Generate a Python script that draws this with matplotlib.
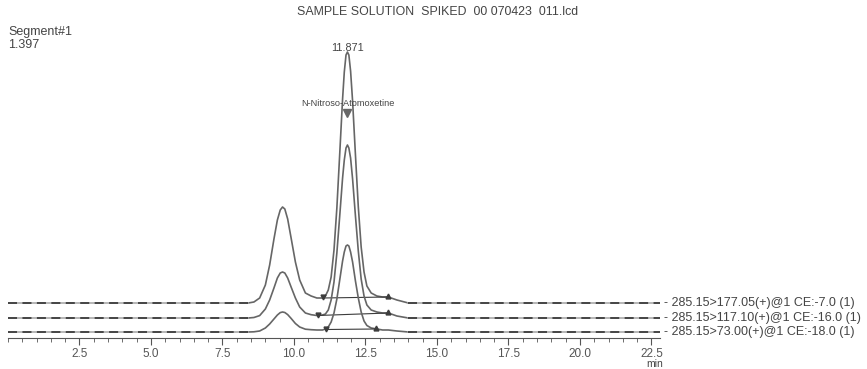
import matplotlib
matplotlib.use('Agg')
import matplotlib.pyplot as plt
from matplotlib.ticker import MultipleLocator

plt.rcParams['font.family'] = ['Liberation Sans', 'DejaVu Sans']

# retention time (min)
rt = [0.0, 8.4, 8.6, 8.8, 9.0, 9.15, 9.3, 9.42, 9.52, 9.6, 9.68, 9.78, 9.9, 10.05,
      10.2, 10.4, 10.6, 10.8, 11.0, 11.1, 11.2, 11.3, 11.4, 11.5, 11.6, 11.7, 11.76,
      11.82, 11.87, 11.92, 11.98, 12.05, 12.15, 12.25, 12.35, 12.45, 12.55, 12.7,
      12.9, 13.1, 13.3, 13.6, 14.0, 22.8]

# intensity above each trace's own baseline
mrm_177 = [0, 0, 1, 5, 18, 38, 64, 83, 93, 96, 94, 84, 65, 41,
           23, 10, 7, 5, 5, 7, 13, 26, 53, 95, 149, 204, 231,
           248, 251, 248, 232, 202, 148, 96, 56, 31, 17, 10,
           7, 6, 6, 3, 0, 0]
mrm_117 = [0, 0, 0.5, 2.4, 9, 18, 30, 40, 45, 46, 45, 40, 31, 20,
           11, 5, 3.3, 2.5, 3, 4, 8, 18, 36, 65, 102, 140, 158,
           170, 173, 170, 160, 139, 102, 67, 39, 22, 13, 8,
           6, 5, 5, 2, 0, 0]
mrm_73 = [0, 0, 0.2, 1, 4, 8, 13, 17, 19.4, 20, 19.5, 17.4, 13.6, 8.5,
          5, 2.8, 2.3, 2, 2, 3, 5, 10, 19, 33, 52, 71, 80,
          86, 87, 86, 80, 70, 51, 34, 20, 11, 6.5, 4,
          3, 2, 2, 1, 0, 0]

trace_labels = ['- 285.15>177.05(+)@1 CE:-7.0 (1)',
                '- 285.15>117.10(+)@1 CE:-16.0 (1)',
                '- 285.15>73.00(+)@1 CE:-18.0 (1)']

# integration baselines: (start time, start height, end time, end height)
integ = [(11.0, 5, 13.3, 6), (10.83, 2.5, 13.3, 5), (11.13, 2.5, 12.87, 3)]

peak_rt = 11.871
peak_name = 'N-Nitroso-Atomoxetine'

W, H = 867, 369
fig = plt.figure(figsize=(W / 100, H / 100), dpi=100)
ax = fig.add_axes([8 / W, 31 / H, 652 / W, 293 / H])
ax.set_xlim(0, 22.8)
ax.set_ylim(0, 293)

offsets = [35, 20, 6]
line_c = '#3c3c3c'
for ys, off, lab, (t0, h0, t1, h1) in zip([mrm_177, mrm_117, mrm_73], offsets, trace_labels, integ):
    yy = [v + off for v in ys]
    peak_part = [(t, y) for t, y in zip(rt, yy) if 8.4 <= t <= 14.0]
    ax.plot([p[0] for p in peak_part], [p[1] for p in peak_part], color='#666666', lw=1.2,
            solid_joinstyle='round')
    flat_l = [(t, y) for t, y in zip(rt, yy) if t <= 8.4]
    flat_r = [(t, y) for t, y in zip(rt, yy) if t >= 14.0]
    for seg in (flat_l, flat_r):
        xs = [p[0] for p in seg]
        ys_ = [p[1] for p in seg]
        ax.plot(xs, ys_, color='#aaaaaa', lw=1.2)
        ax.plot(xs, ys_, color=line_c, lw=1.3, linestyle=(0, (5, 3)))
    ax.plot([t0, t1], [h0 + off, h1 + off], color=line_c, lw=0.8)
    ax.plot([t0], [h0 + off + 1], marker='v', color=line_c, ms=3.5)
    ax.plot([t1], [h1 + off + 1], marker='^', color=line_c, ms=3.5)
    fig.text(664 / W, (off + 31) / H, lab, fontsize=9, color='#444444', va='center', ha='left')

ax.text(peak_rt, 290, '11.871', fontsize=7.8, color='#444444', ha='center', va='center')
ax.text(peak_rt, 235, peak_name, fontsize=6.6, color='#444444', ha='center', va='center')
ax.plot([peak_rt], [225], marker='v', color='#666666', ms=6)

for s in ['left', 'right', 'top']:
    ax.spines[s].set_visible(False)
ax.spines['bottom'].set_color('#555555')
ax.set_yticks([])
ax.xaxis.set_minor_locator(MultipleLocator(0.5))
ax.set_xticks([2.5, 5.0, 7.5, 10.0, 12.5, 15.0, 17.5, 20.0, 22.5])
ax.set_xticklabels(['2.5', '5.0', '7.5', '10.0', '12.5', '15.0', '17.5', '20.0', '22.5'])
ax.tick_params(axis='x', which='major', direction='out', length=5, width=0.8,
               colors='#555555', labelsize=8.5, pad=2)
ax.tick_params(axis='x', which='minor', direction='out', length=3, width=0.6, colors='#555555')

fig.text(655 / W, 1 - 364 / H, 'min', fontsize=7.5, color='#444444', ha='center', va='center')
fig.text(438 / W, 1 - 12 / H, 'SAMPLE SOLUTION  SPIKED  00 070423  011.lcd', fontsize=8.9,
         color='#444444', ha='center', va='center')
fig.text(8 / W, 1 - 32 / H, 'Segment#1', fontsize=9, color='#444444', ha='left', va='center')
fig.text(8 / W, 1 - 45 / H, '1.397', fontsize=9, color='#444444', ha='left', va='center')

fig.savefig('out.png', dpi=100, facecolor='white')
